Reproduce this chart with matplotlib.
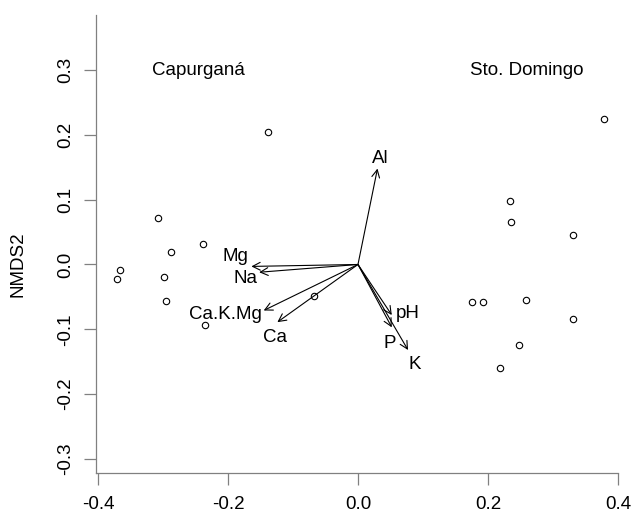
import matplotlib
matplotlib.use("Agg")
import matplotlib.pyplot as plt
from matplotlib.patches import FancyArrowPatch

plt.rcParams['font.family'] = ['Liberation Sans', 'DejaVu Sans']

# site scores (NMDS1, NMDS2)
site_x = [-0.138, -0.308, -0.239, -0.288, -0.366, -0.371, -0.299, -0.296, -0.236, -0.067,
          0.379, 0.234, 0.236, 0.331, 0.175, 0.193, 0.259, 0.331, 0.247, 0.218]
site_y = [0.205, 0.071, 0.031, 0.020, -0.008, -0.022, -0.020, -0.057, -0.094, -0.049,
          0.225, 0.098, 0.065, 0.045, -0.058, -0.058, -0.055, -0.084, -0.125, -0.160]

# envfit vectors
vec_names = ["Al", "Mg", "Na", "Ca.K.Mg", "Ca", "pH", "P", "K"]
vec_x = [0.030, -0.164, -0.152, -0.145, -0.124, 0.052, 0.052, 0.077]
vec_y = [0.148, -0.003, -0.012, -0.071, -0.089, -0.078, -0.097, -0.132]
# label offsets from arrow tip, in pixels
lab_dx = [3, -16, -14, -38, -2, 16, -2, 7]
lab_dy = [10, 10, -6, -4, -15, 2, -16, -14]

groups = ["Capurganá", "Sto. Domingo"]
group_x = [-0.245, 0.259]
group_y = [0.30, 0.30]

fig = plt.figure(figsize=(6.31, 5.16), dpi=100)
W, H = 631, 516
ax = fig.add_axes([96 / W, (H - 473) / H, (618 - 96) / W, (473 - 15) / H])
ax.set_xlim(-0.403, 0.4)
ax.set_ylim(-0.3218, 0.385)

ax.plot(site_x, site_y, 'o', mfc='none', mec='black', ms=4.6, mew=0.8, zorder=3)

for i in range(len(vec_names)):
    arr = FancyArrowPatch((0, 0), (vec_x[i], vec_y[i]),
                          arrowstyle='->,head_length=0.55,head_width=0.28',
                          mutation_scale=10, lw=0.8, color='black',
                          shrinkA=0, shrinkB=0)
    ax.add_patch(arr)
    ax.annotate(vec_names[i], (vec_x[i], vec_y[i]),
                xytext=(lab_dx[i], lab_dy[i]), textcoords='offset pixels',
                ha='center', va='center', fontsize=13.5)

for i in range(len(groups)):
    ax.text(group_x[i], group_y[i], groups[i], ha='center', va='center', fontsize=13.5)

for s in ['top', 'right']:
    ax.spines[s].set_visible(False)
for s in ['left', 'bottom']:
    ax.spines[s].set_color('#808080')
    ax.spines[s].set_linewidth(0.9)

ax.set_xticks([-0.4, -0.2, 0.0, 0.2, 0.4])
ax.set_xticklabels(["-0.4", "-0.2", "0.0", "0.2", "0.4"])
ax.set_yticks([-0.3, -0.2, -0.1, 0.0, 0.1, 0.2, 0.3])
ax.set_yticklabels(["-0.3", "-0.2", "-0.1", "0.0", "0.1", "0.2", "0.3"],
                   rotation=90, va='center')
ax.tick_params(axis='both', color='#808080', length=8.6, width=0.9, labelsize=13.5)
ax.tick_params(axis='x', pad=8)
ax.tick_params(axis='y', pad=7)

fig.text(18 / W, (H - 264.5) / H, "NMDS2", rotation=90, ha='center', va='center',
         fontsize=13.5)

fig.savefig("out.png", dpi=100)
